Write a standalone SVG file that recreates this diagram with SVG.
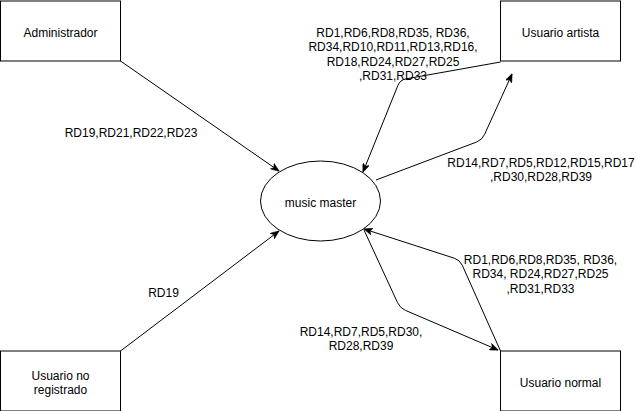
<svg xmlns="http://www.w3.org/2000/svg" width="637" height="411" viewBox="0 0 637 411">
<style>
.node{fill:#fff;stroke:#000;stroke-width:1}
.t{font-family:"Liberation Sans",Arial,sans-serif;font-size:12px;fill:#000;text-anchor:middle}
.e{fill:none;stroke:#000;stroke-width:1}
</style>
<defs>
<marker id="arr" viewBox="0 0 10 8" refX="9.5" refY="4" markerWidth="9" markerHeight="7.2" orient="auto" markerUnits="userSpaceOnUse">
<path d="M0,0 L10,4 L0,8 L2.5,4 z" fill="#000" stroke="#000" stroke-width="0.5"/>
</marker>
</defs>
<rect width="637" height="411" fill="#fff"/>
<g id="connectors">
<path class="e" d="M120.5,61 L279,171" marker-end="url(#arr)"/>
<path class="e" d="M120.5,351 L279,231" marker-end="url(#arr)"/>
<path class="e" d="M500.5,62 L405.9,78.9 Q400,80 397.8,85.6 L363,172" marker-end="url(#arr)"/>
<path class="e" d="M376,180 L476.4,142.1 Q482,140 484.5,134.6 L512,74" marker-end="url(#arr)"/>
<path class="e" d="M500.5,351 L462.4,265.5 Q460,260 454.3,258.2 L364,229" marker-end="url(#arr)"/>
<path class="e" d="M364,230 L397.5,302.6 Q400,308 405.5,310.4 L498,350" marker-end="url(#arr)"/>
</g>
<g id="edge-labels">
<text class="t" x="131" y="137">RD19,RD21,RD22,RD23</text>
<text class="t" x="393" y="36.5">RD1,RD6,RD8,RD35, RD36,</text>
<text class="t" x="393" y="51">RD34,RD10,RD11,RD13,RD16,</text>
<text class="t" x="393" y="65.5">RD18,RD24,RD27,RD25</text>
<text class="t" x="393" y="80">,RD31,RD33</text>
<text class="t" x="541" y="166.5">RD14,RD7,RD5,RD12,RD15,RD17</text>
<text class="t" x="541" y="181">,RD30,RD28,RD39</text>
<text class="t" x="540.5" y="263.5">RD1,RD6,RD8,RD35, RD36,</text>
<text class="t" x="540.5" y="278">RD34, RD24,RD27,RD25</text>
<text class="t" x="540.5" y="292.5">,RD31,RD33</text>
<text class="t" x="361" y="336">RD14,RD7,RD5,RD30,</text>
<text class="t" x="361" y="350">RD28,RD39</text>
<text class="t" x="163.5" y="296.5">RD19</text>
</g>
<g id="administrador">
<rect class="node" x="0.5" y="1" width="120" height="60"/>
<text class="t" x="60.5" y="36.5">Administrador</text>
</g>
<g id="usuario-artista">
<rect class="node" x="500.5" y="1" width="120" height="60"/>
<text class="t" x="560.5" y="36.5">Usuario artista</text>
</g>
<g id="music-master">
<ellipse class="node" cx="320.5" cy="201" rx="60" ry="40"/>
<text class="t" x="320.5" y="206.5">music master</text>
</g>
<g id="usuario-no-registrado">
<rect class="node" x="0.5" y="351" width="120" height="60"/>
<text class="t" x="60.5" y="379.5">Usuario no</text>
<text class="t" x="60.5" y="394">registrado</text>
</g>
<g id="usuario-normal">
<rect class="node" x="500.5" y="351" width="120" height="60"/>
<text class="t" x="560.5" y="387">Usuario normal</text>
</g>
</svg>
